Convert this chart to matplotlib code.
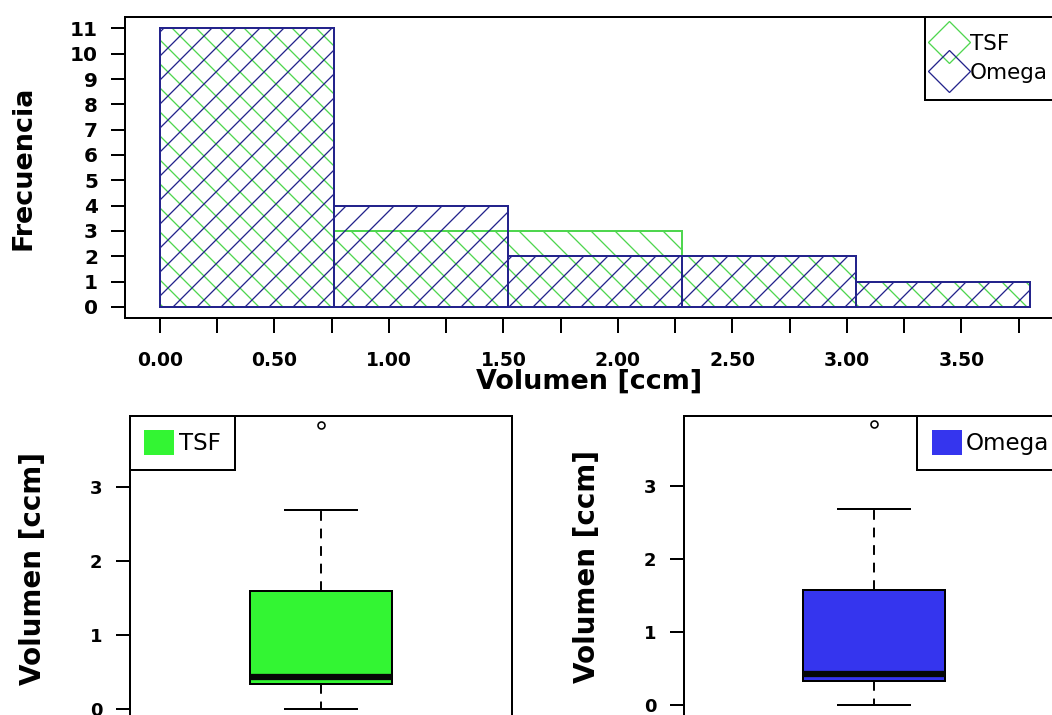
import numpy as np
import matplotlib.pyplot as plt
from matplotlib.lines import Line2D
from matplotlib.patches import Patch

# histogram: shared bins for both samples
bin_edges = [0.0, 0.76, 1.52, 2.28, 3.04, 3.80]
tsf_counts = [11, 3, 3, 2, 1]
omega_counts = [11, 4, 2, 2, 1]

freq_ticks = list(range(0, 12))
vol_ticks = [0.0, 0.25, 0.5, 0.75, 1.0, 1.25, 1.5, 1.75,
             2.0, 2.25, 2.5, 2.75, 3.0, 3.25, 3.5, 3.75]
vol_labels = ['0.00', '', '0.50', '', '1.00', '', '1.50', '',
              '2.00', '', '2.50', '', '3.00', '', '3.50', '']
box_ticks = [0, 1, 2, 3]

# boxplot summaries (q1, median, q3, whiskers, outliers)
tsf_q = [0.33, 0.43, 1.60]
tsf_whis = [0.0, 2.69]
tsf_out = [3.84]
omega_q = [0.33, 0.43, 1.575]
omega_whis = [0.0, 2.68]
omega_out = [3.85]

TSF_LINE = '#4fd64f'
OMEGA_LINE = '#24248c'
TSF_FILL = '#33f533'
OMEGA_FILL = '#3535ee'

plt.rcParams['font.family'] = 'DejaVu Sans'
plt.rcParams['font.weight'] = 'bold'
plt.rcParams['axes.labelweight'] = 'bold'
plt.rcParams['hatch.linewidth'] = 1.3
plt.rcParams['axes.linewidth'] = 2.0

# at 72 dpi one point is one pixel, and the hatch lines come out ~24px apart
DPI = 72
W, H = 1052, 715
fig = plt.figure(figsize=(W / DPI, H / DPI), dpi=DPI)


def frac(left, top, right, bottom):
    return [left / W, 1 - bottom / H, (right - left) / W, (bottom - top) / H]


# ---- histogram ----
ax = fig.add_axes(frac(125, 17, 1065, 318))
widths = np.diff(bin_edges)
ax.bar(bin_edges[:-1], tsf_counts, width=widths, align='edge',
       facecolor='none', edgecolor=TSF_LINE, hatch='\\', lw=2)
ax.bar(bin_edges[:-1], omega_counts, width=widths, align='edge',
       facecolor='none', edgecolor=OMEGA_LINE, hatch='/', lw=2)
ax.set_xlim(-0.152, 3.952)
ax.set_ylim(-0.44, 11.45)
ax.set_yticks(freq_ticks)
ax.set_yticklabels([str(v) for v in freq_ticks], fontsize=20)
ax.set_xticks(vol_ticks)
ax.set_xticklabels(vol_labels, fontsize=18.7)
ax.tick_params(axis='y', length=14.5, width=2, pad=12.5)
ax.tick_params(axis='x', length=14.5, width=2, pad=18)
ax.set_ylabel('Frecuencia', fontsize=27, va='center')
ax.yaxis.set_label_coords(-0.1085, 0.5)
ax.set_xlabel('Volumen [ccm]', fontsize=27, va='center')
ax.xaxis.set_label_coords(0.494, -0.2126)

hist_handles = [
    Line2D([], [], ls='none', marker='D', ms=29, mfc='none',
           mec=TSF_LINE, mew=1.3),
    Line2D([], [], ls='none', marker='D', ms=29, mfc='none',
           mec=OMEGA_LINE, mew=1.3),
]
leg = ax.legend(hist_handles, ['TSF', 'Omega'], loc='upper right',
                borderaxespad=0, fancybox=False, framealpha=1,
                edgecolor='black', handlelength=0.64, handletextpad=0.68,
                borderpad=0.78, labelspacing=0.42,
                prop={'size': 21.5, 'weight': 'normal'})
leg.get_frame().set_linewidth(2)


# ---- boxplots ----
def draw_box(rect, q, whis, outliers, fill, label, loc):
    bx = fig.add_axes(rect)
    stats = [dict(q1=q[0], med=q[1], q3=q[2], whislo=whis[0],
                  whishi=whis[1], fliers=outliers)]
    bx.bxp(stats, positions=[1], widths=0.372, capwidths=0.19,
           patch_artist=True,
           boxprops=dict(facecolor=fill, edgecolor='black', lw=2),
           medianprops=dict(color='#050805', lw=6.3, solid_capstyle='butt'),
           whiskerprops=dict(color='black', lw=1.95, linestyle=(0, (5, 4))),
           capprops=dict(color='black', lw=2),
           flierprops=dict(marker='o', ms=7, mfc='none', mec='black',
                           mew=1.6))
    bx.set_xlim(0.5, 1.5)
    bx.set_ylim(-0.15, 3.96)
    bx.set_xticks([])
    bx.set_yticks(box_ticks)
    bx.set_yticklabels([str(v) for v in box_ticks], fontsize=18)
    bx.tick_params(axis='y', length=14.5, width=2, pad=13.2)
    bx.set_ylabel('Volumen [ccm]', fontsize=27.7, va='center')
    bx.yaxis.set_label_coords(-0.254, 0.497)
    lg = bx.legend([Patch(facecolor=fill, edgecolor='none')], [label],
                   loc=loc, borderaxespad=0, fancybox=False, framealpha=1,
                   edgecolor='black', handlelength=1.3, handleheight=1.26,
                   handletextpad=0.2, borderpad=0.63,
                   prop={'size': 23, 'weight': 'normal'})
    lg.get_frame().set_linewidth(2)
    return bx


draw_box(frac(130, 416, 512, 720), tsf_q, tsf_whis, tsf_out,
         TSF_FILL, 'TSF', 'upper left')
draw_box(frac(684, 416, 1064, 716), omega_q, omega_whis, omega_out,
         OMEGA_FILL, 'Omega', 'upper right')

fig.savefig('out.png', dpi=DPI)
